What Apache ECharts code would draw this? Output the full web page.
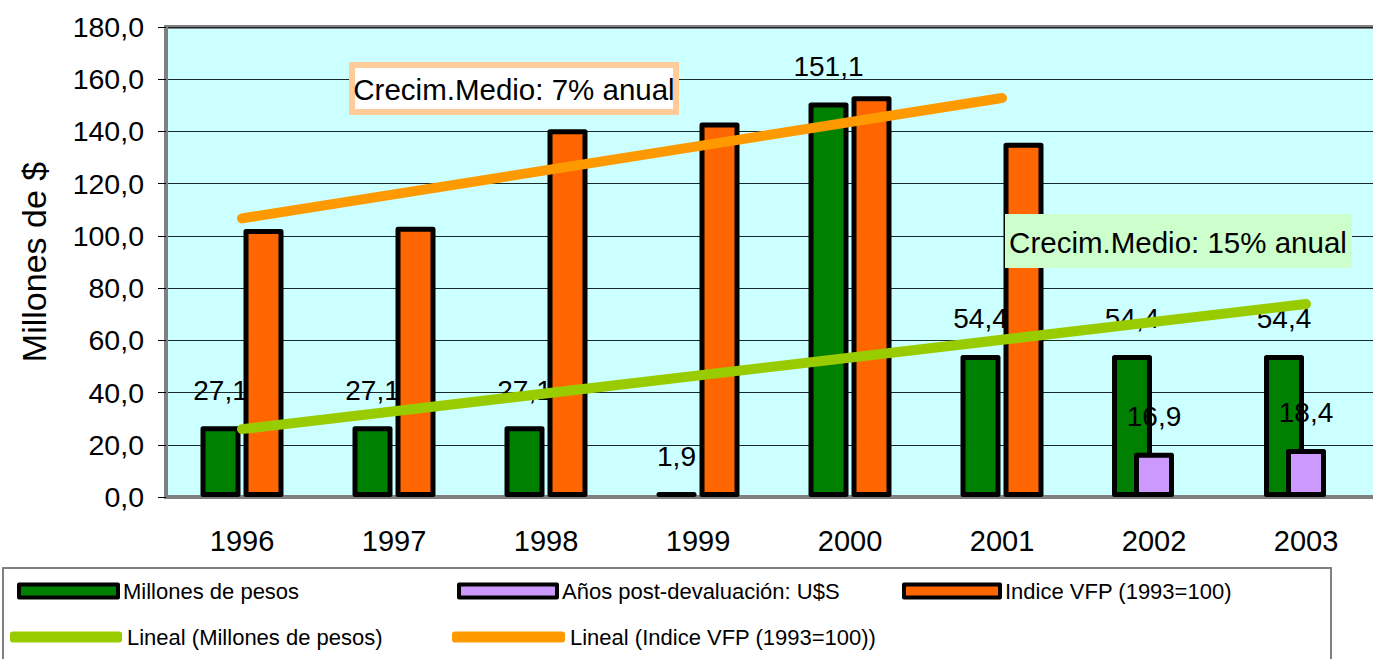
<!DOCTYPE html>
<html>
<head>
<meta charset="utf-8">
<script src="https://cdn.jsdelivr.net/npm/echarts@6/dist/echarts.min.js"></script>
<style>
  html, body { margin: 0; padding: 0; background: #fff; }
  #chart { width: 1373px; height: 659px; }
</style>
</head>
<body>
<div id="chart"></div>
<script>
// datos
var years = ['1996', '1997', '1998', '1999', '2000', '2001', '2002', '2003']
var millonesPesos = [27.1, 27.1, 27.1, 1.9, 151.1, 54.4, null, null]
var millonesPesosPost = [null, null, null, null, null, null, 54.4, 54.4] // mismos pesos, otro eje en 2002-2003
var postDevaluacion = [null, null, null, null, null, null, 16.9, 18.4]
var indiceVFP = [102.6, 103.5, 140.8, 143.4, 153.5, 135.7, null, null]
var linealPesos = [26.0, null, null, null, null, null, null, 73.9] // solo extremos de la recta
var linealVFP = [106.7, null, null, null, null, 152.8, null, null]
var notaVFP = 'Crecim.Medio: 7% anual'
var notaPesos = 'Crecim.Medio: 15% anual'
var yMin = 0, yMax = 180, yStep = 20

var FONT = '"Liberation Sans", Arial, sans-serif'
var GREEN = '#008000', ORANGE = '#FF6600', PURPLE = '#CC99FF'
var LGREEN = '#99CC00', LORANGE = '#FF9900'

var fmt = function (v) { return v.toFixed(1).replace('.', ',') }

// estilo comun de barras
var barStyle = function (color) {
  return { color: color, borderColor: '#000', borderWidth: 5, borderJoin: 'round' }
}
var barLabel = {
  show: true,
  position: 'top',
  distance: 22,
  color: '#000',
  fontFamily: FONT,
  fontSize: 28,
  formatter: function (p) { return fmt(p.value) }
}

// leyendas sueltas para ubicarlas como en el original
var legendItem = function (name, left, top, w, h, icon, style) {
  return {
    left: left, top: top, padding: 0,
    itemWidth: w, itemHeight: h,
    selectedMode: false,
    textStyle: { fontFamily: FONT, fontSize: 22, color: '#000' },
    data: [{ name: name, icon: icon, itemStyle: style }]
  }
}

var chart = echarts.init(document.getElementById('chart'), null, { renderer: 'svg' })

chart.setOption({
  animation: false,
  grid: {
    left: 166, top: 27, width: 1216, height: 470,
    outerBoundsMode: 'none', // el area sigue fuera del borde derecho, como el original
    show: true,
    backgroundColor: '#CCFFFF',
    borderColor: '#808080',
    borderWidth: 4
  },
  xAxis: [
    {
      type: 'category',
      data: years,
      axisLine: { lineStyle: { color: '#808080', width: 3 } },
      axisTick: { length: 10, lineStyle: { color: '#333' } },
      axisLabel: { color: '#000', fontFamily: FONT, fontSize: 29, margin: 29 }
    },
    {
      type: 'category',
      data: years,
      show: false
    }
  ],
  yAxis: {
    type: 'value',
    min: yMin, max: yMax, interval: yStep,
    name: 'Millones de $',
    nameLocation: 'middle',
    nameGap: 115,
    nameTextStyle: { color: '#000', fontFamily: FONT, fontSize: 34 },
    axisLine: { show: true, lineStyle: { color: '#808080', width: 4 } },
    axisTick: { show: true, length: 8, lineStyle: { color: '#000' } },
    axisLabel: { color: '#000', fontFamily: FONT, fontSize: 28.5, margin: 22, formatter: fmt },
    splitLine: { lineStyle: { color: '#1a2a2a', width: 1 } }
  },
  legend: [
    legendItem('Millones de pesos', 17, 580, 99, 13, 'rect', { color: GREEN, borderColor: '#000', borderWidth: 4 }),
    legendItem('Años post-devaluación: U$S', 457, 580, 98, 13, 'rect', { color: PURPLE, borderColor: '#000', borderWidth: 4 }),
    legendItem('Indice VFP (1993=100)', 902, 580, 96, 13, 'rect', { color: ORANGE, borderColor: '#000', borderWidth: 4 }),
    legendItem('Lineal (Millones de pesos)', 10, 626, 112, 11, 'roundRect', { color: LGREEN, borderWidth: 0 }),
    legendItem('Lineal (Indice VFP (1993=100))', 452, 626, 113, 11, 'roundRect', { color: LORANGE, borderWidth: 0 })
  ],
  series: [
    {
      name: 'Millones de pesos',
      type: 'bar',
      xAxisIndex: 0,
      z: 2,
      barWidth: 40,
      barGap: '7.5%',
      data: millonesPesos,
      itemStyle: barStyle(GREEN),
      label: barLabel
    },
    {
      name: 'Indice VFP (1993=100)',
      type: 'bar',
      xAxisIndex: 0,
      z: 3,
      barWidth: 40,
      barGap: '7.5%',
      data: indiceVFP,
      itemStyle: barStyle(ORANGE)
    },
    {
      name: 'Millones de pesos',
      type: 'bar',
      xAxisIndex: 1,
      z: 2,
      barWidth: 40,
      barGap: '-45%',
      data: millonesPesosPost,
      itemStyle: barStyle(GREEN),
      label: barLabel
    },
    {
      name: 'Años post-devaluación: U$S',
      type: 'bar',
      xAxisIndex: 1,
      z: 3,
      barWidth: 40,
      barGap: '-45%',
      data: postDevaluacion,
      itemStyle: barStyle(PURPLE),
      label: barLabel
    },
    {
      // hueco vacio para centrar la barra violeta
      name: 'vacio',
      type: 'bar',
      xAxisIndex: 1,
      barWidth: 40,
      barGap: '-45%',
      data: years.map(function () { return null })
    },
    {
      name: 'Lineal (Millones de pesos)',
      type: 'line',
      z: 5,
      data: linealPesos,
      connectNulls: true,
      symbol: 'none',
      itemStyle: { color: LGREEN },
      lineStyle: { color: LGREEN, width: 10, cap: 'round' }
    },
    {
      name: 'Lineal (Indice VFP (1993=100))',
      type: 'line',
      z: 5,
      data: linealVFP,
      connectNulls: true,
      symbol: 'none',
      itemStyle: { color: LORANGE },
      lineStyle: { color: LORANGE, width: 10, cap: 'round' }
    }
  ],
  graphic: [
    {
      type: 'rect', z: 10,
      shape: { x: 352, y: 65, width: 324, height: 47 },
      style: { fill: '#fff', stroke: '#FFCC99', lineWidth: 6 }
    },
    {
      type: 'text', z: 11, x: 514, y: 89,
      style: { text: notaVFP, fontFamily: FONT, fontSize: 29.5, fill: '#000', align: 'center', verticalAlign: 'middle' }
    },
    {
      type: 'rect', z: 10,
      shape: { x: 1005, y: 214, width: 347, height: 54 },
      style: { fill: '#CCFFCC' }
    },
    {
      type: 'text', z: 11, x: 1178, y: 242,
      style: { text: notaPesos, fontFamily: FONT, fontSize: 29.5, fill: '#000', align: 'center', verticalAlign: 'middle' }
    },
    {
      // marco de la leyenda
      type: 'rect', z: 1,
      shape: { x: 3, y: 568, width: 1328, height: 120 },
      style: { fill: 'none', stroke: '#808080', lineWidth: 2 }
    }
  ]
})
</script>
</body>
</html>
